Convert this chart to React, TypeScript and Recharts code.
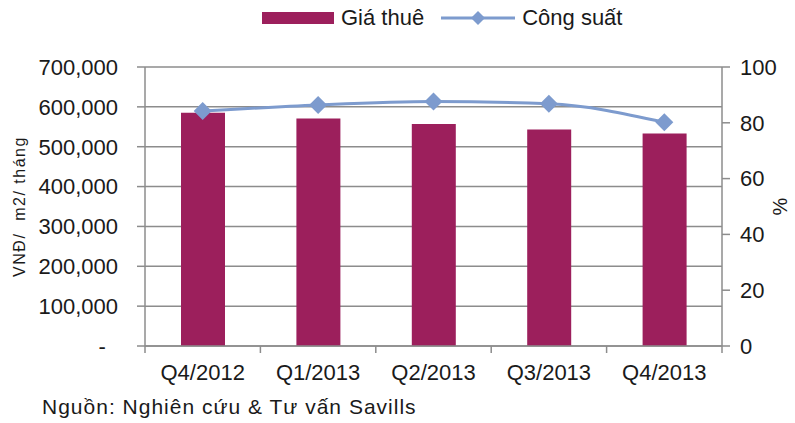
import React from "react"
import { Bar, CartesianGrid, ComposedChart, Line, XAxis, YAxis } from "recharts"

const quarters = ["Q4/2012", "Q1/2013", "Q2/2013", "Q3/2013", "Q4/2013"]
const rent = [585000, 571000, 557000, 543000, 533000]
const occupancy = [84.2, 86.4, 87.6, 86.8, 80.2]
const rentTicks = [0, 100000, 200000, 300000, 400000, 500000, 600000, 700000]
const pctTicks = [0, 20, 40, 60, 80, 100]

const data = quarters.map((q, i) => ({ q, rent: rent[i], occ: occupancy[i] }))

const FONT = "'Liberation Sans', Arial, sans-serif"
const BAR = "#9c1f5c"
const LINE = "#7d9bce"
const GRID = "#8c8c8c"
const TEXT = "#1a1a1a"

const W = 795
const H = 423
const PLOT_LEFT = 145
const PLOT_RIGHT = 722

const tickStyle = { fontSize: 22, fontFamily: FONT, fill: TEXT }

function Diamond({ cx, cy }: any) {
  if (cx == null || cy == null) return null
  const r = 9
  return <polygon points={`${cx},${cy - r} ${cx + r},${cy} ${cx},${cy + r} ${cx - r},${cy}`} fill={LINE} />
}

// category label at the centre, tick marks on the category edges (Excel style)
function QuarterTick({ x, y, payload, index }: any) {
  const half = payload?.offset || (PLOT_RIGHT - PLOT_LEFT) / quarters.length / 2
  return (
    <g>
      <line x1={x - half} x2={x - half} y1={y - 18} y2={y - 11} stroke={GRID} strokeWidth={1.5} />
      {index === quarters.length - 1 && (
        <line x1={x + half} x2={x + half} y1={y - 18} y2={y - 11} stroke={GRID} strokeWidth={1.5} />
      )}
      <text x={x} y={y} dy="0.71em" textAnchor="middle" {...tickStyle}>
        {payload.value}
      </text>
    </g>
  )
}

function Legend() {
  return (
    <div style={{ position: "absolute", left: 262, top: 5, display: "flex", alignItems: "center", fontFamily: FONT, fontSize: 22, color: TEXT }}>
      <span style={{ display: "inline-block", width: 72, height: 12, background: BAR }} />
      <span style={{ marginLeft: 7 }}>Giá thuê</span>
      <svg width={74} height={20} style={{ marginLeft: 17 }}>
        <line x1={0} x2={74} y1={10} y2={10} stroke={LINE} strokeWidth={3} />
        <polygon points="37,3 44,10 37,17 30,10" fill={LINE} />
      </svg>
      <span style={{ marginLeft: 7 }}>Công suất</span>
    </div>
  )
}

export default function App() {
  return (
    <div style={{ position: "absolute", left: 0, top: 0, width: W, height: H, background: "#fff" }}>
      <Legend />
      <ComposedChart width={W} height={H} data={data} margin={{ top: 67, right: 0, bottom: 47, left: 0 }}>
        <CartesianGrid vertical={false} yAxisId="rent" stroke={GRID} strokeWidth={1.5} />
        <XAxis
          dataKey="q"
          height={30}
          tickLine={false}
          tickSize={0}
          tickMargin={18}
          axisLine={{ stroke: GRID, strokeWidth: 1.5 }}
          tick={<QuarterTick />}
          interval={0}
        />
        <YAxis
          yAxisId="rent"
          width={PLOT_LEFT}
          domain={[0, 700000]}
          ticks={rentTicks}
          interval={0}
          tickSize={8}
          tickMargin={19}
          tick={tickStyle}
          tickLine={{ stroke: GRID, strokeWidth: 1.5 }}
          axisLine={{ stroke: GRID, strokeWidth: 1.5 }}
          tickFormatter={(v: number) => (v === 0 ? "-\u00a0\u00a0" : v.toLocaleString("en-US"))}
          label={{
            value: "VNĐ/\u00a0 m2/ tháng",
            angle: -90,
            position: "insideLeft",
            offset: 19,
            style: { fontSize: 16, letterSpacing: 1.5, fontFamily: FONT, fill: TEXT, textAnchor: "middle" },
          }}
        />
        <YAxis
          yAxisId="pct"
          orientation="right"
          width={W - PLOT_RIGHT}
          domain={[0, 100]}
          ticks={pctTicks}
          interval={0}
          tickSize={8}
          tickMargin={10}
          tick={{ ...tickStyle, textAnchor: "start" }}
          tickLine={{ stroke: GRID, strokeWidth: 1.5 }}
          axisLine={{ stroke: GRID, strokeWidth: 1.5 }}
          label={{
            value: "%",
            angle: -90,
            position: "insideRight",
            offset: 15,
            style: { fontSize: 20, fontFamily: FONT, fill: TEXT, textAnchor: "middle" },
          }}
        />
        <Bar yAxisId="rent" dataKey="rent" fill={BAR} barSize={44} isAnimationActive={false} />
        <Line
          yAxisId="pct"
          type="monotone"
          dataKey="occ"
          stroke={LINE}
          strokeWidth={3}
          dot={<Diamond />}
          activeDot={false}
          isAnimationActive={false}
        />
      </ComposedChart>
      <div style={{ position: "absolute", left: 42, top: 395, fontFamily: FONT, fontSize: 21, letterSpacing: 1, color: TEXT, whiteSpace: "nowrap" }}>
        Nguồn: Nghiên cứu &amp; Tư vấn Savills
      </div>
    </div>
  )
}
